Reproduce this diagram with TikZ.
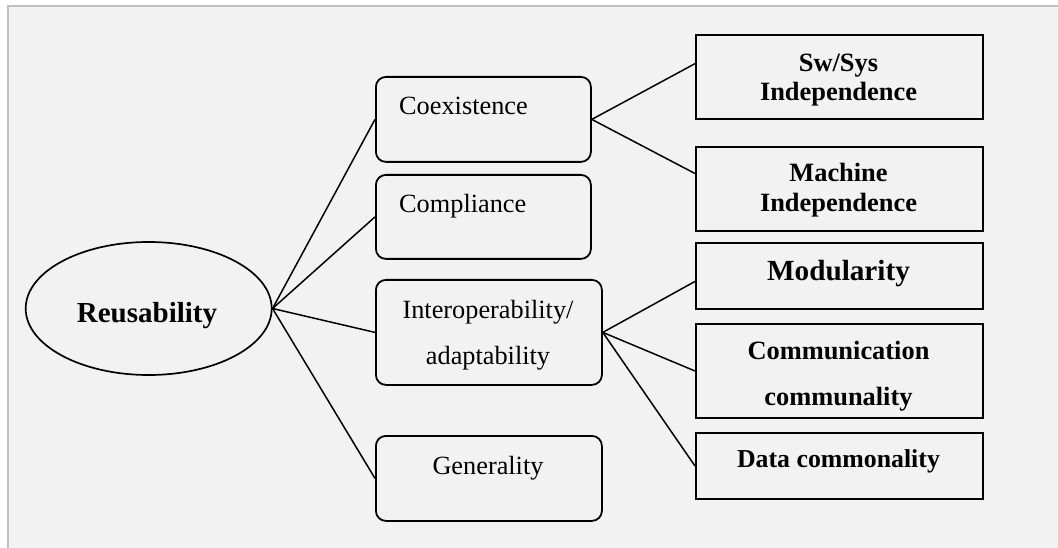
\documentclass[tikz,border=0pt]{standalone}
\usepackage{fontspec}
\setmainfont{Liberation Serif}
\usetikzlibrary{calc,shapes.geometric}
\definecolor{bg}{HTML}{F2F2F2}
\definecolor{framec}{HTML}{C0C0C0}
\tikzset{
  rbox/.style={draw, rounded corners=10pt, line width=1.8pt, anchor=north west, inner sep=0pt},
  sbox/.style={draw, line width=2pt, anchor=north west, inner sep=0pt},
  txt/.style={inner sep=0pt, font=\fontsize{26.3}{30}\selectfont},
  btxt/.style={inner sep=0pt, font=\fontsize{26.4}{30}\selectfont\bfseries},
  conn/.style={line width=1.5pt},
}
\begin{document}
\begin{tikzpicture}[x=1pt,y=-1pt]
\useasboundingbox (0,0) rectangle (1058,548);
\fill[white] (0,0) rectangle (1058,548);
\fill[bg] (8,6) rectangle (1058,548);
\draw[framec, line width=2pt] (8,548) -- (8,6) -- (1058,6);

% root
\node[draw, ellipse, minimum width=246pt, minimum height=133pt, line width=1.7pt, inner sep=0pt] (reu) at (148.7,308.5) {};
\node[anchor=base, inner sep=0pt, font=\fontsize{29}{32}\selectfont\bfseries] (reut) at (147,322) {Reusability};

% middle rounded boxes
\node[rbox, minimum width=215pt, minimum height=85pt] (coex) at (375,76) {};
\node[rbox, minimum width=215pt, minimum height=84pt] (comp) at (375,174) {};
\node[rbox, minimum width=226pt, minimum height=105pt] (inter) at (375,279) {};
\node[rbox, minimum width=226pt, minimum height=85pt] (gen) at (375,435) {};

\node[txt, anchor=base west] (coext) at (399,115) {Coexistence};
\node[txt, anchor=base west] (compt) at (399,213) {Compliance};
\node[txt, anchor=base] (intert1) at (488,318) {Interoperability/};
\node[txt, anchor=base] (intert2) at (488,364) {adaptability};
\node[txt, anchor=base] (gent) at (488,474) {Generality};

% right boxes
\node[sbox, minimum width=287pt, minimum height=84pt] (sw) at (695,34) {};
\node[sbox, minimum width=287pt, minimum height=84pt] (mach) at (695,146) {};
\node[sbox, minimum width=287pt, minimum height=66pt] (mod) at (695,242) {};
\node[sbox, minimum width=287pt, minimum height=94pt] (comm) at (695,323) {};
\node[sbox, minimum width=287pt, minimum height=66pt] (data) at (695,432) {};

\node[btxt, anchor=base] (swt1) at (838.5,72) {Sw/Sys};
\node[btxt, anchor=base] (swt2) at (838.5,101) {Independence};
\node[btxt, anchor=base] (macht1) at (838.5,182) {Machine};
\node[btxt, anchor=base] (macht2) at (838.5,212) {Independence};
\node[anchor=base, inner sep=0pt, font=\fontsize{29.2}{32}\selectfont\bfseries] (modt) at (838.5,280) {Modularity};
\node[btxt, anchor=base] (commt1) at (838.5,359) {Communication};
\node[btxt, anchor=base] (commt2) at (838.5,405) {communality};
\node[anchor=base, inner sep=0pt, font=\fontsize{25.8}{30}\selectfont\bfseries] (datat) at (838.5,467) {Data commonality};

% connectors
\draw[conn] (reu.east) -- (coex.west);
\draw[conn] (reu.east) -- (comp.west);
\draw[conn] (reu.east) -- (inter.west);
\draw[conn] (reu.east) -- (gen.west);
\draw[conn] (coex.east) -- ($(sw.north west)!0.345!(sw.south west)$);
\draw[conn] (coex.east) -- ($(mach.north west)!0.32!(mach.south west)$);
\draw[conn] (inter.east) -- ($(mod.north west)!0.58!(mod.south west)$);
\draw[conn] (inter.east) -- (comm.west);
\draw[conn] (inter.east) -- (data.west);
\end{tikzpicture}
\end{document}
